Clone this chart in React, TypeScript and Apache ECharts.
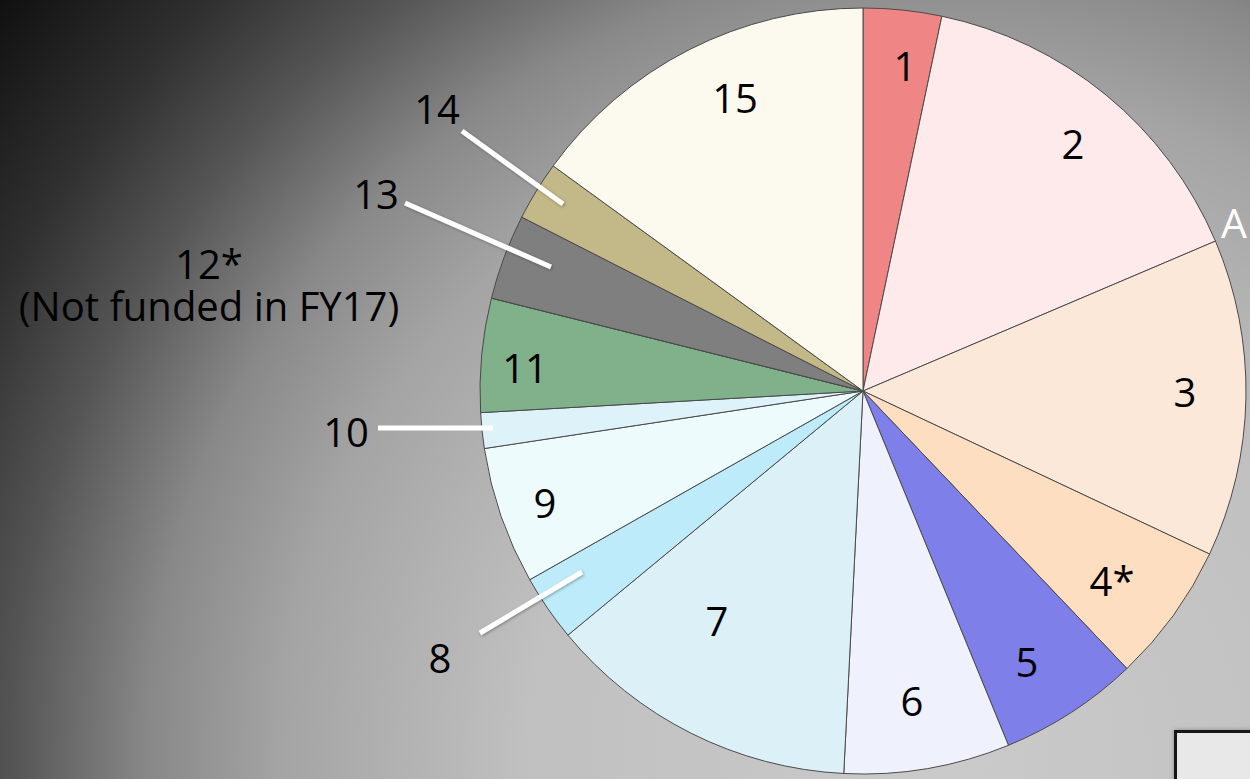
import React, { useEffect, useRef } from 'react';
import * as echarts from 'echarts';

// ---- data ----
const categories = ['1', '2', '3', '4*', '5', '6', '7', '8', '9', '10', '11', '12*', '13', '14', '15'];
const shares = [3.3, 15.3, 13.4, 5.9, 5.9, 7.0, 13.2, 2.8, 5.8, 1.5, 4.8, 0, 3.6, 2.5, 15.0];
const notes = ['', '', '', '', '', '', '', '', '', '', '', '(Not funded in FY17)', '', '', ''];
const sliceColors = [
  '#EF8585', '#FEEAEA', '#FCE8D9', '#FEDEC0', '#7F7FE9',
  '#EFF2FD', '#DCF0F8', '#BDEBFA', '#EDFBFC', '#DDF3F9',
  '#80B18A', '#CCCCCC', '#7F7F7F', '#C3B887', '#FCF9EF',
];

// ---- layout (label centres, leader lines) ----
const LABEL_XY: [number, number][] = [
  [905, 65], [1073, 143], [1185, 391], [1112, 580], [1027, 661],
  [912, 700], [717, 620], [440, 657], [545, 502], [346, 431],
  [525, 367], [209, 284], [376, 193], [437, 108], [735, 97],
];
const LEADERS: [number, number, number, number][] = [
  [462, 131, 563, 204],
  [405, 203, 551, 267],
  [378, 428, 493, 428],
  [480, 633, 582, 572],
];

const FONT = 'Open Sans';

export default function App() {
  const ref = useRef<HTMLDivElement>(null);
  useEffect(() => {
    document.body.style.margin = '0';
    const chart = echarts.init(ref.current!, undefined, { renderer: 'svg' });
    const bg = new echarts.graphic.RadialGradient(950, 760, 1217, [
      { offset: 0, color: '#cacaca' },
      { offset: 0.35, color: '#c0c0c0' },
      { offset: 0.55, color: '#a4a4a4' },
      { offset: 0.66, color: '#888888' },
      { offset: 0.77, color: '#555555' },
      { offset: 0.87, color: '#303030' },
      { offset: 1, color: '#101010' },
    ], true);
    const graphics: any[] = [
      { type: 'rect', z: -100, silent: true, shape: { x: 0, y: 0, width: 1250, height: 779 }, style: { fill: bg } },
      ...LEADERS.map(([x1, y1, x2, y2]) => ({
        type: 'line', z: 50, silent: true,
        shape: { x1, y1, x2, y2 },
        style: y1 === y2
          ? { stroke: '#ffffff', lineWidth: 5 }
          : { stroke: '#ffffff', lineWidth: 5, shadowBlur: 3, shadowColor: 'rgba(0,0,0,0.35)', shadowOffsetX: 1, shadowOffsetY: 1 },
      })),
      {
        type: 'text', z: 50, silent: true,
        style: { text: 'A', x: 1221, y: 222, fill: '#ffffff', fontSize: 41, fontFamily: FONT, align: 'left', verticalAlign: 'middle' },
      },
      {
        type: 'rect', z: 50, silent: true,
        shape: { x: 1175.5, y: 731.5, width: 200, height: 100 },
        style: { fill: '#e8e8e8', stroke: '#141414', lineWidth: 3, shadowBlur: 4, shadowColor: 'rgba(0,0,0,0.3)' },
      },
    ];
    chart.setOption({
      animation: false,
      graphic: graphics,
      series: [
        {
          type: 'pie',
          center: [863, 391],
          radius: 383,
          startAngle: 90,
          clockwise: true,
          avoidLabelOverlap: false,
          silent: true,
          emphasis: { disabled: true },
          itemStyle: { borderColor: '#4a4a4a', borderWidth: 1 },
          label: {
            show: true,
            position: 'outside',
            color: '#000000',
            fontFamily: FONT,
            fontSize: 40,
            lineHeight: 42,
            formatter: (p: any) => {
              const n = notes[p.dataIndex];
              return n ? p.name + '\n' + n : p.name;
            },
          },
          labelLine: { show: false },
          labelLayout: (p: any) => ({
            x: LABEL_XY[p.dataIndex][0],
            y: LABEL_XY[p.dataIndex][1],
            align: 'center',
            verticalAlign: 'middle',
          }),
          data: categories.map((name, i) => ({
            name,
            value: shares[i],
            itemStyle: { color: sliceColors[i] },
          })),
        },
      ],
    });
    return () => chart.dispose();
  }, []);
  return <div ref={ref} style={{ width: 1250, height: 779 }} />;
}
